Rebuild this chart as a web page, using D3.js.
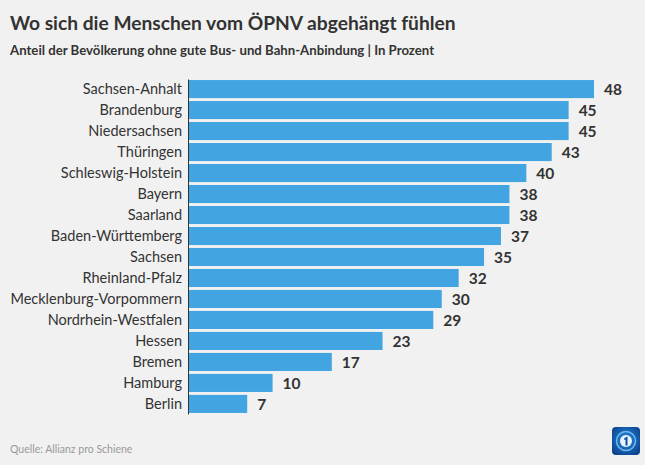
<!DOCTYPE html>
<html><head><meta charset="utf-8">
<script src="https://cdn.jsdelivr.net/npm/d3@7"></script>
<style>
html,body{margin:0;padding:0;background:#fff;}
svg{display:block;}
text{font-family:"Lato","Open Sans",sans-serif;}
</style></head><body>
<svg id="c" width="650" height="470"></svg>
<script>
const categories = ["Sachsen-Anhalt","Brandenburg","Niedersachsen","Thüringen","Schleswig-Holstein","Bayern","Saarland","Baden-Württemberg","Sachsen","Rheinland-Pfalz","Mecklenburg-Vorpommern","Nordrhein-Westfalen","Hessen","Bremen","Hamburg","Berlin"];
const values = [48,45,45,43,40,38,38,37,35,32,30,29,23,17,10,7];
const title = "Wo sich die Menschen vom ÖPNV abgehängt fühlen";
const subtitle = "Anteil der Bevölkerung ohne gute Bus- und Bahn-Anbindung | In Prozent";
const source = "Quelle: Allianz pro Schiene";

const svg = d3.select("#c");
svg.append("rect").attr("x",0).attr("y",0).attr("width",645).attr("height",465).attr("fill","#f1f1f1");

const x = d3.scaleLinear().domain([0,48]).range([188,594]);
const y = d3.scaleBand().domain(categories).range([79,414]).paddingInner(0.14).paddingOuter(0.05);

svg.append("text").attr("x",10).attr("y",30).attr("font-size",19.2).attr("font-weight",700).attr("fill","#333").text(title);
svg.append("text").attr("x",10).attr("y",55).attr("font-size",13.2).attr("font-weight",700).attr("fill","#333").text(subtitle);

svg.selectAll("rect.bar").data(values).join("rect").attr("class","bar")
  .attr("x",x(0)).attr("y",(d,i)=>y(categories[i])).attr("width",d=>x(d)-x(0)).attr("height",y.bandwidth()).attr("fill","#42a4e0");

svg.selectAll("text.val").data(values).join("text").attr("class","val")
  .attr("x",d=>x(d)+10).attr("y",(d,i)=>y(categories[i])+y.bandwidth()/2).attr("dy","0.36em")
  .attr("font-size",15.5).attr("font-weight",700).attr("fill","#333").text(d=>d);

const ax = svg.append("g").attr("transform",`translate(${x(0)},0)`).call(d3.axisLeft(y).tickSize(0).tickPadding(6));
ax.select(".domain").attr("stroke","#333").attr("stroke-width",1);
ax.selectAll("text").attr("font-size",14.5).attr("fill","#333").attr("font-family","Lato, sans-serif");

svg.append("text").attr("x",10).attr("y",453).attr("font-size",10.5).attr("fill","#999").attr("font-family","'Liberation Sans Narrow','Open Sans',sans-serif").text(source);

const defs = svg.append("defs");
const g = defs.append("radialGradient").attr("id","lg").attr("cx","50%").attr("cy","45%").attr("r","70%");
g.append("stop").attr("offset","0%").attr("stop-color","#2a8be0");
g.append("stop").attr("offset","100%").attr("stop-color","#073a85");
const logo = svg.append("g").attr("transform","translate(612,427)");
logo.append("rect").attr("width",28).attr("height",28).attr("rx",4).attr("fill","url(#lg)");
logo.append("circle").attr("cx",14).attr("cy",14).attr("r",9.5).attr("fill","none").attr("stroke","#6fb9ef").attr("stroke-width",1.5);
logo.append("circle").attr("cx",14).attr("cy",14).attr("r",6).attr("fill","#e8f3fc");
logo.append("path").attr("d","M12.5 11 L15.5 9.5 L15.5 18.5 L13.5 18.5 L13.5 12.5 L12 13 Z").attr("fill","#0a4f9e");
</script>
</body></html>
